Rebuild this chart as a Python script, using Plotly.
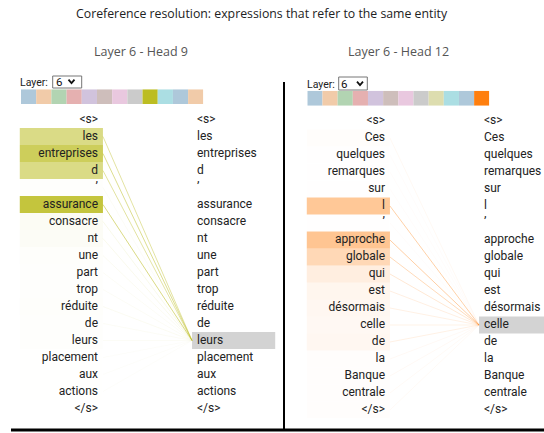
import html
import plotly.graph_objects as go

W, H = 544, 433

title = "Coreference resolution: expressions that refer to the same entity"
panel_titles = ["Layer 6 - Head 9", "Layer 6 - Head 12"]
layer_value = "6"

tokens_left = ["<s>", "les", "entreprises", "d", "’", "assurance", "consacre", "nt", "une",
               "part", "trop", "réduite", "de", "leurs", "placement", "aux", "actions", "</s>"]
attn_left = [0.0, 0.55, 0.74, 0.55, 0.01, 0.88, 0.05, 0.04, 0.02,
             0.01, 0.01, 0.02, 0.01, 0.01, 0.005, 0.005, 0.005, 0.0]
target_left = 13  # "leurs"

tokens_right = ["<s>", "Ces", "quelques", "remarques", "sur", "l", "’", "approche", "globale",
                "qui", "est", "désormais", "celle", "de", "la", "Banque", "centrale", "</s>"]
attn_right = [0.0, 0.015, 0.003, 0.003, 0.003, 0.43, 0.003, 0.45, 0.30,
              0.13, 0.07, 0.06, 0.05, 0.06, 0.012, 0.012, 0.01, 0.01]
target_right = 12  # "celle"

head_colors = ["#1f77b4", "#ff7f0e", "#2ca02c", "#d62728", "#9467bd", "#8c564b",
               "#e377c2", "#7f7f7f", "#bcbd22", "#17becf", "#1f77b4", "#ff7f0e"]
selected_heads = [8, 11]  # head 9 and head 12 (0-based)


def hex_rgb(h):
    h = h.lstrip("#")
    return tuple(int(h[i:i + 2], 16) for i in (0, 2, 4))


def faded(h):
    r, g, b = hex_rgb(h)
    return "rgb(%d,%d,%d)" % tuple(round(0.3 * c + 0.7 * 235) for c in (r, g, b))


def rgba(h, a):
    r, g, b = hex_rgb(h)
    return "rgba(%d,%d,%d,%.3f)" % (r, g, b, a)


def px(p):
    return p / W


def py(p):
    return 1 - p / H


UNIT = 99.0  # pixels per column unit
TXT_FONT = dict(family="Roboto", size=12, color="#222")

fig = go.Figure()

panels = [
    dict(tokens=tokens_left, attn=attn_left, target=target_left, color=head_colors[selected_heads[0]],
         xa="x", ya="y"),
    dict(tokens=tokens_right, attn=attn_right, target=target_right, color=head_colors[selected_heads[1]],
         xa="x2", ya="y2"),
]

for p in panels:
    n = len(p["tokens"])
    rows = list(range(n))
    labels = [html.escape(t, quote=False) for t in p["tokens"]]
    # attention boxes on the source column
    fig.add_trace(go.Bar(
        orientation="h", y=rows, x=[0.84] * n, base=-0.79, width=1,
        marker=dict(color=[rgba(p["color"], a) for a in p["attn"]], line=dict(width=0)),
        xaxis=p["xa"], yaxis=p["ya"], hoverinfo="skip", showlegend=False))
    # target highlight
    fig.add_trace(go.Bar(
        orientation="h", y=[p["target"]], x=[0.84], base=0.95, width=1,
        marker=dict(color="#d3d3d3", line=dict(width=0)),
        xaxis=p["xa"], yaxis=p["ya"], hoverinfo="skip", showlegend=False))
    # attention lines
    for i, a in enumerate(p["attn"]):
        if a <= 0:
            continue
        fig.add_trace(go.Scatter(
            x=[0.05, 0.95], y=[i, p["target"]], mode="lines",
            line=dict(color=rgba(p["color"], min(1, 0.6 * a ** 0.6)), width=1),
            xaxis=p["xa"], yaxis=p["ya"], hoverinfo="skip", showlegend=False))
    # token texts
    fig.add_trace(go.Scatter(
        x=[0] * n, y=rows, mode="text", text=labels, textposition="middle left",
        textfont=TXT_FONT, xaxis=p["xa"], yaxis=p["ya"], hoverinfo="skip", showlegend=False))
    fig.add_trace(go.Scatter(
        x=[1] * n, y=rows, mode="text", text=labels, textposition="middle right",
        textfont=TXT_FONT, xaxis=p["xa"], yaxis=p["ya"], hoverinfo="skip", showlegend=False))

# head colour strips
for sel, xa, ya in [(selected_heads[0], "x3", "y3"), (selected_heads[1], "x4", "y4")]:
    cols = [head_colors[i] if i == sel else faded(head_colors[i]) for i in range(len(head_colors))]
    fig.add_trace(go.Bar(
        x=list(range(len(head_colors))), y=[1] * len(head_colors), width=1,
        marker=dict(color=cols, line=dict(width=0)),
        xaxis=xa, yaxis=ya, hoverinfo="skip", showlegend=False))

hid = dict(visible=False, fixedrange=True)
fig.update_layout(
    width=W, height=H, margin=dict(l=0, r=0, t=0, b=0),
    paper_bgcolor="white", plot_bgcolor="rgba(0,0,0,0)",
    barmode="overlay", showlegend=False,
    xaxis=dict(domain=[px(1), px(284)], range=[(1 - 98) / UNIT, (284 - 98) / UNIT], **hid),
    yaxis=dict(domain=[py(417), py(111)], range=[17.5, -0.5], **hid),
    xaxis2=dict(domain=[px(288), 1], range=[(288 - 385) / UNIT, (544 - 385) / UNIT], **hid),
    yaxis2=dict(domain=[py(418.5), py(112.5)], range=[17.5, -0.5], **hid),
    xaxis3=dict(domain=[px(21), px(203.3)], range=[-0.5, 11.5], **hid),
    yaxis3=dict(domain=[py(104), py(89.3)], range=[0, 1], **hid),
    xaxis4=dict(domain=[px(307.3), px(489.3)], range=[-0.5, 11.5], **hid),
    yaxis4=dict(domain=[py(105.7), py(90.7)], range=[0, 1], **hid),
)

ann = []
ann.append(dict(text=title, x=px(262), y=py(14), xref="paper", yref="paper", showarrow=False,
                xanchor="center", yanchor="middle",
                font=dict(family="Open Sans", size=12.3, color="#222")))
for t, cx in zip(panel_titles, [140.5, 398.5]):
    ann.append(dict(text=t, x=px(cx), y=py(52), xref="paper", yref="paper", showarrow=False,
                    xanchor="center", yanchor="middle",
                    font=dict(family="Open Sans", size=12.5, color="#555")))

shapes = []
# dropdowns
for lx, ly, bx0, bx1, by0, by1, vx, chx, chy in [
        (20, 82, 52.7, 81.7, 76, 88, 58.5, 71.5, 81.5),
        (307, 84, 338.7, 367.3, 77, 90, 344.3, 360, 83.5)]:
    ann.append(dict(text="Layer:", x=px(lx), y=py(ly), xref="paper", yref="paper", showarrow=False,
                    xanchor="left", yanchor="middle", xshift=-2,
                    font=dict(family="Roboto", size=10.5, color="#222")))
    ann.append(dict(text=layer_value, x=px(vx), y=py((by0 + by1) / 2), xref="paper", yref="paper",
                    showarrow=False, xanchor="center", yanchor="middle",
                    font=dict(family="Roboto", size=11.5, color="#111")))
    shapes.append(dict(type="rect", xref="paper", yref="paper", x0=px(bx0), x1=px(bx1),
                       y0=py(by1), y1=py(by0), line=dict(color="#767676", width=1)))
    shapes.append(dict(type="path", xref="paper", yref="paper",
                       path="M %f,%f L %f,%f L %f,%f" % (px(chx - 3), py(chy - 1.8), px(chx), py(chy + 1.6),
                                                         px(chx + 3), py(chy - 1.8)),
                       line=dict(color="#111", width=1.8)))

# separators
shapes.append(dict(type="line", xref="paper", yref="paper", x0=px(284), x1=px(284), y0=py(82), y1=py(430),
                   line=dict(color="black", width=2)))
shapes.append(dict(type="line", xref="paper", yref="paper", x0=px(11), x1=1, y0=py(430), y1=py(430),
                   line=dict(color="black", width=3)))

fig.update_layout(annotations=ann, shapes=shapes)
fig.write_html("out.html", config={"displayModeBar": False},
               post_script="document.body.style.margin='0';document.body.style.overflow='hidden';")
